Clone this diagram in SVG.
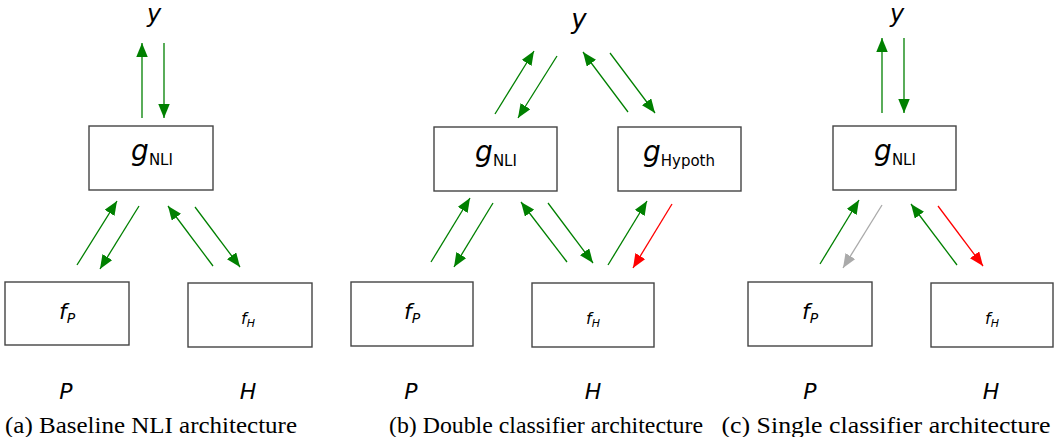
<svg xmlns="http://www.w3.org/2000/svg" width="1054" height="437" viewBox="0 0 1054 437">
<style>
.box{fill:#fff;stroke:#444;stroke-width:1.4}
.m{font-family:"DejaVu Sans",sans-serif;fill:#000}
.it{font-style:italic}
.cap{font-family:"Liberation Serif","Times New Roman",serif;font-size:24px;fill:#000}
.g{stroke:#008000;stroke-width:1.3;fill:none;marker-end:url(#hg)}
.r{stroke:#ff0000;stroke-width:1.3;fill:none;marker-end:url(#hr)}
.k{stroke:#aaaaaa;stroke-width:1.3;fill:none;marker-end:url(#hk)}
</style>
<defs>
<marker id="hg" markerUnits="userSpaceOnUse" markerWidth="15" markerHeight="12" refX="14" refY="5.75" orient="auto"><path d="M0,0 L14,5.75 L0,11.5 z" fill="#008000"/></marker>
<marker id="hr" markerUnits="userSpaceOnUse" markerWidth="15" markerHeight="12" refX="14" refY="5.75" orient="auto"><path d="M0,0 L14,5.75 L0,11.5 z" fill="#ff0000"/></marker>
<marker id="hk" markerUnits="userSpaceOnUse" markerWidth="15" markerHeight="12" refX="14" refY="5.75" orient="auto"><path d="M0,0 L14,5.75 L0,11.5 z" fill="#aaaaaa"/></marker>
</defs>
<rect width="1054" height="437" fill="#fff"/>

<g id="connectors">
<line class="g" x1="142" y1="118" x2="142" y2="43"/>
<line class="g" x1="164" y1="43" x2="164" y2="118"/>
<line class="g" x1="77" y1="265" x2="117" y2="201"/>
<line class="g" x1="139" y1="206" x2="100" y2="269"/>
<line class="g" x1="213" y1="266" x2="168" y2="206"/>
<line class="g" x1="195" y1="207" x2="240" y2="267"/>

<line class="g" x1="495" y1="114" x2="534" y2="51"/>
<line class="g" x1="557" y1="56" x2="518" y2="118"/>
<line class="g" x1="628" y1="112" x2="583" y2="52"/>
<line class="g" x1="610" y1="53" x2="655" y2="113"/>
<line class="g" x1="431" y1="262" x2="470" y2="198"/>
<line class="g" x1="493" y1="203" x2="454" y2="267"/>
<line class="g" x1="567" y1="262" x2="521" y2="202"/>
<line class="g" x1="548" y1="203" x2="593" y2="263"/>
<line class="g" x1="608" y1="265" x2="647" y2="201"/>
<line class="r" x1="672" y1="204" x2="633" y2="268"/>

<line class="g" x1="882" y1="113" x2="882" y2="38"/>
<line class="g" x1="904" y1="38" x2="904" y2="113"/>
<line class="g" x1="820" y1="264" x2="859" y2="200"/>
<line class="k" x1="882" y1="205" x2="843" y2="268"/>
<line class="g" x1="957" y1="265" x2="911" y2="204"/>
<line class="r" x1="938" y1="206" x2="983" y2="266"/>
</g>

<g id="a-y"><text class="m it" x="154" y="22" font-size="24" text-anchor="middle">y</text></g>
<g id="a-gNLI"><rect class="box" x="89" y="126" width="124" height="64"/><text class="m" x="152" y="160" text-anchor="middle"><tspan class="it" font-size="28">g</tspan><tspan font-size="15" dy="5">NLI</tspan></text></g>
<g id="a-fP"><rect class="box" x="5" y="282" width="124" height="63"/><text class="m it" x="67" y="319" text-anchor="middle"><tspan font-size="22">f</tspan><tspan font-size="14" dy="4">P</tspan></text></g>
<g id="a-fH"><rect class="box" x="188" y="283" width="124" height="64"/><text class="m it" x="248" y="324" text-anchor="middle"><tspan font-size="16">f</tspan><tspan font-size="11" dy="3">H</tspan></text></g>
<g id="a-P"><text class="m it" x="66" y="399" font-size="22" text-anchor="middle">P</text></g>
<g id="a-H"><text class="m it" x="248" y="399" font-size="22" text-anchor="middle">H</text></g>
<text class="cap" x="151" y="433" text-anchor="middle" textLength="292" lengthAdjust="spacingAndGlyphs">(a) Baseline NLI architecture</text>

<g id="b-y"><text class="m it" x="579" y="28" font-size="26" text-anchor="middle">y</text></g>
<g id="b-gNLI"><rect class="box" x="434" y="127" width="123" height="64"/><text class="m" x="496" y="161" text-anchor="middle"><tspan class="it" font-size="28">g</tspan><tspan font-size="15" dy="5">NLI</tspan></text></g>
<g id="b-gHypoth"><rect class="box" x="618" y="127" width="123" height="64"/><text class="m" x="679" y="161" text-anchor="middle"><tspan class="it" font-size="28">g</tspan><tspan font-size="15" dy="5">Hypoth</tspan></text></g>
<g id="b-fP"><rect class="box" x="351" y="282" width="122" height="64"/><text class="m it" x="412" y="319" text-anchor="middle"><tspan font-size="22">f</tspan><tspan font-size="14" dy="4">P</tspan></text></g>
<g id="b-fH"><rect class="box" x="532" y="283" width="122" height="64"/><text class="m it" x="593" y="324" text-anchor="middle"><tspan font-size="16">f</tspan><tspan font-size="11" dy="3">H</tspan></text></g>
<g id="b-P"><text class="m it" x="411" y="399" font-size="22" text-anchor="middle">P</text></g>
<g id="b-H"><text class="m it" x="593" y="399" font-size="22" text-anchor="middle">H</text></g>
<text class="cap" x="546" y="433" text-anchor="middle" textLength="314" lengthAdjust="spacingAndGlyphs">(b) Double classifier architecture</text>

<g id="c-y"><text class="m it" x="897" y="22" font-size="24" text-anchor="middle">y</text></g>
<g id="c-gNLI"><rect class="box" x="833" y="126" width="123" height="64"/><text class="m" x="895" y="160" text-anchor="middle"><tspan class="it" font-size="28">g</tspan><tspan font-size="15" dy="5">NLI</tspan></text></g>
<g id="c-fP"><rect class="box" x="748" y="282" width="124" height="64"/><text class="m it" x="810" y="319" text-anchor="middle"><tspan font-size="22">f</tspan><tspan font-size="14" dy="4">P</tspan></text></g>
<g id="c-fH"><rect class="box" x="931" y="283" width="122" height="64"/><text class="m it" x="992" y="324" text-anchor="middle"><tspan font-size="16">f</tspan><tspan font-size="11" dy="3">H</tspan></text></g>
<g id="c-P"><text class="m it" x="810" y="399" font-size="22" text-anchor="middle">P</text></g>
<g id="c-H"><text class="m it" x="991" y="399" font-size="22" text-anchor="middle">H</text></g>
<text class="cap" x="886" y="433" text-anchor="middle" textLength="329" lengthAdjust="spacingAndGlyphs">(c) Single classifier architecture</text>
</svg>
